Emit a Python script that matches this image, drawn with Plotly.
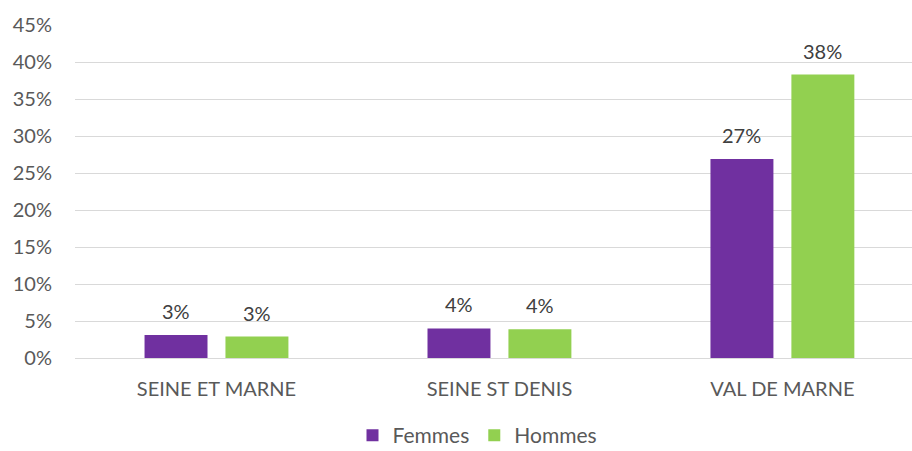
import plotly.graph_objects as go

categories = ["SEINE ET MARNE", "SEINE ST DENIS", "VAL DE MARNE"]
femmes = [0.031, 0.040, 0.269]
hommes = [0.029, 0.039, 0.383]
y_ticks = [0, 0.05, 0.10, 0.15, 0.20, 0.25, 0.30, 0.35, 0.40, 0.45]
y_tick_labels = ["0%", "5%", "10%", "15%", "20%", "25%", "30%", "35%", "40%", "45%"]

FONT = "Lato, 'Open Sans', sans-serif"
series = [("Femmes", femmes, "#7030A0", -40.5), ("Hommes", hommes, "#92D050", 40.5)]

fig = go.Figure()
for name, vals, color, _ in series:
    fig.add_trace(go.Bar(
        name=name, x=categories, y=vals, marker_color=color,
        marker_line_width=0,
    ))

for name, vals, color, dx in series:
    for c, v in zip(categories, vals):
        fig.add_annotation(
            x=c, y=v, xref="x", yref="y", text=f"{round(v*100)}%",
            showarrow=False, xshift=dx, yshift=24, yanchor="middle",
            font=dict(family=FONT, size=20, color="#404040"),
        )

fig.update_layout(
    width=912, height=451,
    margin=dict(l=75, r=0, t=25, b=93, autoexpand=False),
    paper_bgcolor="white", plot_bgcolor="white",
    barmode="group", bargap=0.428, bargroupgap=0.222,
    font=dict(family=FONT, size=20, color="#595959"),
    showlegend=True,
    legend=dict(orientation="h", xref="paper", yref="paper",
                x=(477.5 - 75) / 837, y=(358 - 456) / 333, xanchor="center", yanchor="bottom",
                font=dict(family=FONT, size=21, color="#595959"),
                itemwidth=30, traceorder="normal", bgcolor="rgba(0,0,0,0)"),
    xaxis=dict(range=[-0.5, 2.458], showgrid=False, showline=False, automargin=False,
               ticks="", ticklabelstandoff=17,
               tickfont=dict(family=FONT, size=20, color="#595959")),
    yaxis=dict(range=[0, 0.45], tickvals=y_ticks, ticktext=y_tick_labels, automargin=False,
               showgrid=True, gridcolor="#D9D9D9", gridwidth=1,
               zeroline=True, zerolinecolor="#D9D9D9", zerolinewidth=1,
               showline=False, ticks="", ticklabelstandoff=22,
               tickfont=dict(family=FONT, size=20, color="#595959")),
)

fig.write_html("out.html", config={"displayModeBar": False},
               post_script="document.body.style.margin='0';document.body.style.overflow='hidden';")
